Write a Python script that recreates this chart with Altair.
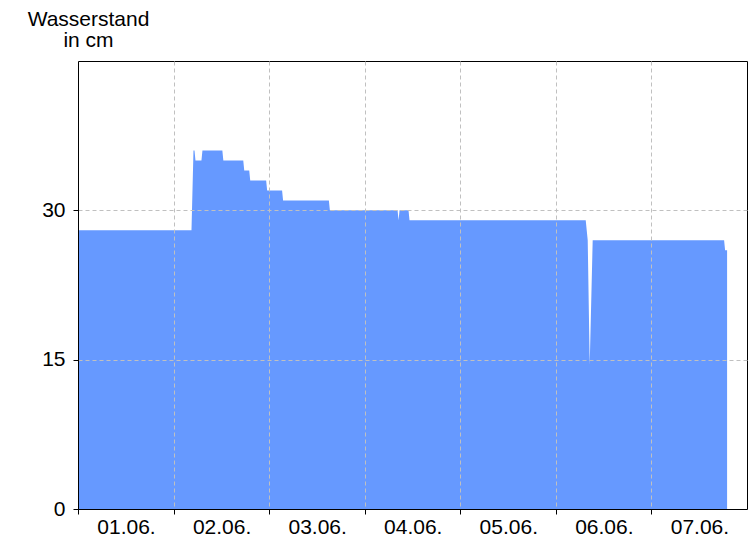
import altair as alt
import pandas as pd

# Zeitpunkte (UTC) und Wasserstand in cm
times = [
    "2024-06-01T00:00:00Z", "2024-06-02T04:30:00Z", "2024-06-02T05:00:00Z",
    "2024-06-02T05:15:00Z", "2024-06-02T05:30:00Z", "2024-06-02T07:00:00Z",
    "2024-06-02T07:15:00Z", "2024-06-02T12:15:00Z", "2024-06-02T12:30:00Z",
    "2024-06-02T17:30:00Z", "2024-06-02T17:45:00Z", "2024-06-02T19:00:00Z",
    "2024-06-02T19:15:00Z", "2024-06-02T23:15:00Z", "2024-06-02T23:30:00Z",
    "2024-06-03T03:15:00Z", "2024-06-03T03:30:00Z", "2024-06-03T15:00:00Z",
    "2024-06-03T15:15:00Z", "2024-06-04T08:15:00Z", "2024-06-04T08:30:00Z",
    "2024-06-04T08:45:00Z", "2024-06-04T11:00:00Z", "2024-06-04T11:15:00Z",
    "2024-06-06T07:30:00Z", "2024-06-06T08:00:00Z", "2024-06-06T08:30:00Z",
    "2024-06-06T09:15:00Z", "2024-06-07T18:15:00Z", "2024-06-07T18:30:00Z",
    "2024-06-07T19:00:00Z",
]
levels = [
    28, 28, 36,
    36, 35, 35,
    36, 36, 35,
    35, 34, 34,
    33, 33, 32,
    32, 31, 31,
    30, 30, 29,
    30, 30, 29,
    29, 27, 14.5,
    27, 27, 26,
    26,
]
day_ticks = [1, 2, 3, 4, 5, 6, 7]
y_ticks = [0, 15, 30]

df = pd.DataFrame({"t": times, "level": levels})

FONT = "Liberation Sans"
FS = 21

chart = (
    alt.Chart(df)
    .mark_area(color="#6699ff", interpolate="linear", opacity=1)
    .encode(
        x=alt.X(
            "t:T",
            scale=alt.Scale(
                type="utc",
                domain=[
                    alt.DateTime(year=2024, month=6, date=1, utc=True),
                    alt.DateTime(year=2024, month=6, date=8, utc=True),
                ],
            ),
            axis=alt.Axis(
                values=[alt.DateTime(year=2024, month=6, date=d, utc=True) for d in day_ticks],
                labelExpr="utcFormat(datum.value, '%d.%m.')",
                labelOffset=48,
                labelAlign="center",
                labelBaseline="alphabetic",
                labelOverlap=False,
                labelFlush=False,
                labelFont=FONT,
                labelFontSize=FS,
                labelColor="black",
                labelPadding=19,
                tickSize=5,
                tickColor="black",
                domainColor="black",
                grid=True,
                gridColor="#c0c0c0",
                gridDash=[4, 3],
                title=None,
                zindex=1,
            ),
        ),
        y=alt.Y(
            "level:Q",
            scale=alt.Scale(domain=[0, 45], nice=False, zero=True),
            axis=alt.Axis(
                values=y_ticks,
                labelFont=FONT,
                labelFontSize=FS,
                labelColor="black",
                labelPadding=8,
                tickSize=5,
                tickColor="black",
                domainColor="black",
                grid=True,
                gridColor="#c0c0c0",
                gridDash=[4, 3],
                title=["Wasserstand", "in cm"],
                titleFont=FONT,
                titleFontSize=FS,
                titleFontWeight="normal",
                titleColor="black",
                titleAngle=0,
                titleAlign="center",
                titleBaseline="alphabetic",
                titleLineHeight=21,
                titleX=10,
                titleY=-36,
                zindex=1,
            ),
        ),
    )
    .properties(
        width=669,
        height=448,
        autosize=alt.AutoSizeParams(type="none"),
        padding={"left": 70, "top": 53, "right": 1, "bottom": 27},
        background="white",
    )
    .configure_view(stroke="black", strokeWidth=1)
)

chart.save("out.html", embed_options={"renderer": "svg", "actions": False})
